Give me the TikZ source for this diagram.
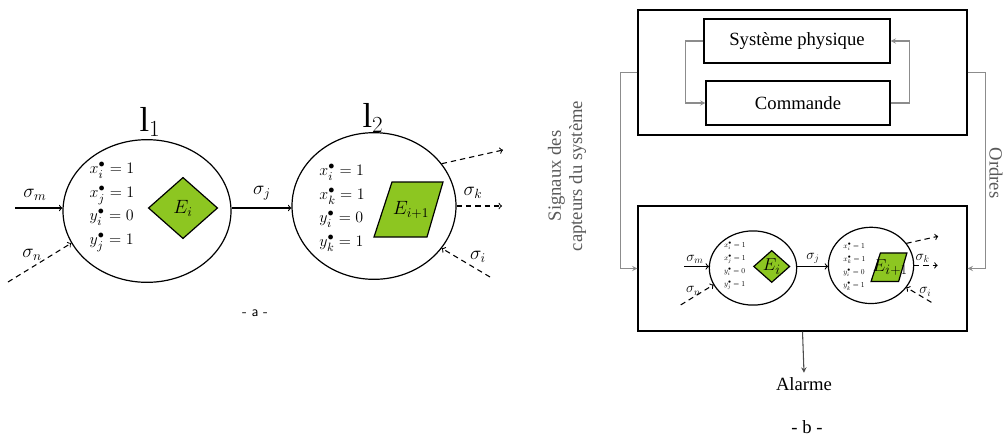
\documentclass[tikz,border=0pt]{standalone}
\usepackage{amsmath}
\usepackage{amssymb}
\usepackage{fontspec}
\setmainfont{Liberation Serif}
\usetikzlibrary{shapes.geometric,positioning}

\definecolor{vert}{RGB}{141,198,33}

\tikzset{
    etat/.style={draw, ellipse, line width=0.9pt, minimum width=126pt, minimum height=107pt},
    vars/.style={align=left, inner sep=0pt, font=\fontsize{13}{17.6}\selectfont},
    losange/.style={draw, diamond, line width=0.9pt, fill=vert, inner sep=0pt, minimum width=52pt, minimum height=46pt},
    lbl/.style={inner sep=1pt, font=\fontsize{14}{16}\selectfont},
    elbl/.style={inner sep=1pt, font=\fontsize{14}{16}\selectfont},
    fleche/.style={->, line width=0.8pt},
    pointille/.style={->, line width=0.8pt, dash pattern=on 4pt off 3pt},
    cadre/.style={draw, line width=0.8pt, minimum width=246.75pt, minimum height=93.75pt},
    boite/.style={draw, line width=0.8pt, minimum height=33pt, font=\fontsize{14}{16}\selectfont},
    gris/.style={->, >=stealth, black!45, line width=0.8pt},
    grand/.style={font=\fontsize{26}{26}\selectfont},
    legende/.style={font=\fontsize{14}{16}\selectfont, text=black!65},
    % automate a deux etats
    automate/.pic={
        \node[etat] (-e1) at (0,0) {};
        \node[etat, minimum width=123pt, minimum height=110pt] (-e2) at (227,-5) {};
        \node[vars] (-v1) at (-35,-4) {$x_i^{\bullet}=1$\\$x_j^{\bullet}=1$\\$y_i^{\bullet}=0$\\$y_j^{\bullet}=1$};
        \node[vars] (-v2) at (195,-3) {$x_i^{\bullet}=1$\\$x_k^{\bullet}=1$\\$y_i^{\bullet}=0$\\$y_k^{\bullet}=1$};
        \node[losange] (-d) at (36,-3) {};
        \node[elbl] (-ed) at (-d) {$E_i$};
        \filldraw[fill=vert, line width=0.9pt] (245,-29) -- (296,-29) -- (280,26) -- (227,26) -- cycle;
        \node[elbl] (-p) at (264,-1) {$E_{i+1}$};
        \coordinate (-m) at (-132,-3);
        \coordinate (-n) at (-139,71);
        \coordinate (-u) at (356,-61);
        \coordinate (-k) at (355,-5);
        \coordinate (-i) at (343,66);
        \draw[fleche] (-m) -- (-m -| -e1.west);
        \node[lbl] (-sm) at (-112,-16) {$\sigma_m$};
        \draw[pointille] (-n) -- (-e1.203);
        \node[lbl] (-sn) at (-115,44) {$\sigma_n$};
        \draw[fleche] (-e1.east |- -m) -- (-m -| -e2.west);
        \node[lbl] (-sj) at (115,-18) {$\sigma_j$};
        \draw[pointille] (-e2.32) -- (-u);
        \draw[pointille] (-e2.east) -- (-k);
        \node[lbl] (-sk) at (326,-18) {$\sigma_k$};
        \draw[pointille] (-i) -- (-e2.-32);
        \node[lbl] (-si) at (331,46) {$\sigma_i$};
    }
}

\begin{document}
\begin{tikzpicture}[x=0.75pt, y=-0.75pt]
    \useasboundingbox (0,0) rectangle (1007,436);

    % - a -
    \pic (a) at (147,211) {automate};
    \node[grand] (l1) at (150,122) {$\mathrm{l}_1$};
    \node[grand] (l2) at (373,118) {$\mathrm{l}_2$};
    \node[font=\sffamily\fontsize{11}{12}\selectfont] (lega) at (255,313) {- a -};

    % - b -
    \node[cadre] (haut) at (802.5,72.5) {};
    \node[boite, minimum width=139.5pt] (sys) at (797,41) {Système physique};
    \node[boite, minimum width=138pt] (cmd) at (798,103) {Commande};
    \draw[gris] (sys.west) -- ++(-18,0) |- (cmd.west);
    \draw[gris] (cmd.east) -- ++(19,0) |- (sys.east);

    \node[cadre] (bas) at (802.5,268.5) {};
    \pic[scale=0.52, transform shape,
         vars/.append style={font=\fontsize{11}{19}\selectfont},
         lbl/.append style={font=\fontsize{22}{24}\selectfont},
         elbl/.append style={font=\fontsize{30}{32}\selectfont}] (b) at (753,268) {automate};

    \draw[gris] (haut.west) -- ++(-17,0) |- (bas.west);
    \draw[gris] (haut.east) -- ++(18,0) |- (bas.east);
    \node[legende, rotate=90, align=center] (capteurs) at (567,176) {Signaux des\\capteurs du système};
    \node[legende, rotate=-90] (ordres) at (996,173) {Ordres};

    \node[font=\fontsize{14}{16}\selectfont] (alarme) at (804,384) {Alarme};
    \draw[gris, black!70] (bas.south) -- (alarme.north);
    \node[font=\fontsize{14}{16}\selectfont] (legb) at (807,427) {- b -};
\end{tikzpicture}
\end{document}
